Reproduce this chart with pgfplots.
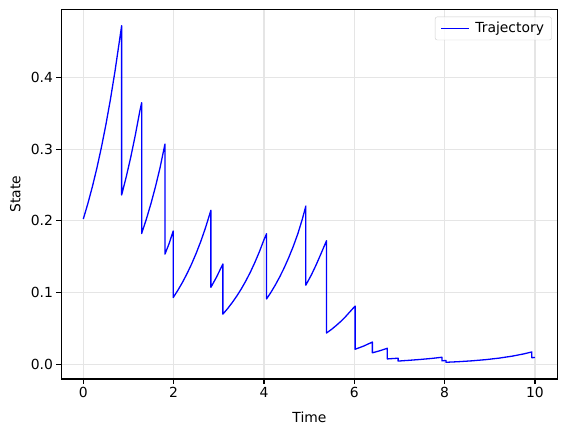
\documentclass[border=0pt]{standalone}
\usepackage{fontspec}
\setmainfont{DejaVu Sans}
\usepackage{pgfplots}
\pgfplotsset{compat=1.18}
\newcommand\mpl{\fontsize{13.9}{16.7}\selectfont}
\begin{document}
\begin{tikzpicture}
\begin{axis}[
  scale only axis, width=496.4pt, height=369.7pt,
  at={(0pt,0pt)}, anchor=south west,
  xmin=-0.487, xmax=10.503, ymin=-0.0205, ymax=0.4948,
  xtick={0,2,4,6,8,10}, ytick={0,0.1,0.2,0.3,0.4},
  tick pos=left,
  /pgf/number format/assume math mode=true,
  yticklabel style={/pgf/number format/.cd, fixed, fixed zerofill, precision=1},
  tick label style={font=\mpl},
  tick align=outside, major tick length=4.9pt,
  every tick/.style={black, line width=1.1pt},
  axis line style={line width=1.1pt},
  grid=major, major grid style={line width=1.1pt, color=black!10},
  xlabel={Time}, ylabel={State},
  xlabel style={font=\mpl, inner sep=0pt, at={(axis description cs:0.5,-0.0882)}, anchor=north},
  ylabel style={font=\mpl, inner sep=0pt, at={(axis description cs:-0.0822,0.5)}, anchor=base, rotate=0},
  legend style={at={(axis description cs:1,1)}, anchor=north east, xshift=-6pt, yshift=-7.4pt,
    draw=black!20, rounded corners=2pt, fill=white, fill opacity=0.8, text opacity=1,
    font=\mpl, inner xsep=5.5pt, inner ysep=3.5pt},
  legend image code/.code={\draw[#1, line width=1.1pt] (0pt,0pt) -- (27.8pt,0pt); \path (31.5pt,0pt);},
]
\addplot[blue, line width=1.3pt, line join=round] coordinates {
(0,0.2025) (0.1,0.2238) (0.2,0.2473) (0.3,0.2733) (0.4,0.3021) (0.5,0.3339) (0.6,0.3690) (0.7,0.4078) (0.8,0.4507) (0.849,0.472)
(0.849,0.236) (0.95,0.2611) (1.05,0.2885) (1.15,0.3189) (1.25,0.3524) (1.292,0.3646)
(1.292,0.1823) (1.4,0.2031) (1.5,0.2245) (1.6,0.2481) (1.7,0.2742) (1.808,0.307)
(1.808,0.1535) (1.9,0.1683) (1.99,0.1858)
(1.99,0.093) (2.1,0.1038) (2.2,0.1147) (2.3,0.1268) (2.4,0.1401) (2.5,0.1549) (2.6,0.1711) (2.7,0.1892) (2.825,0.2146)
(2.825,0.1073) (2.95,0.1216) (3.09,0.1398)
(3.09,0.0699) (3.2,0.0780) (3.3,0.0863) (3.4,0.0953) (3.5,0.1053) (3.6,0.1164) (3.7,0.1286) (3.8,0.1422) (3.9,0.1571) (4.0,0.1736) (4.057,0.182)
(4.057,0.091) (4.15,0.0999) (4.25,0.1104) (4.35,0.1220) (4.45,0.1348) (4.55,0.1490) (4.65,0.1646) (4.75,0.1820) (4.85,0.2025) (4.927,0.2206)
(4.927,0.1103) (5.05,0.1247) (5.15,0.1379) (5.25,0.1523) (5.385,0.1723)
(5.385,0.0862) (5.385,0.0436) (5.5,0.0489) (5.6,0.0541) (5.7,0.0597) (5.8,0.0660) (5.9,0.0730) (6.018,0.0812)
(6.018,0.0406) (6.018,0.021) (6.2,0.0252) (6.40,0.031)
(6.40,0.016) (6.56,0.0188) (6.73,0.0223)
(6.73,0.0112) (6.73,0.0075) (6.97,0.0085)
(6.97,0.0045) (7.2,0.0055) (7.45,0.0067) (7.7,0.0081) (7.94,0.0098)
(7.94,0.0049) (8.03,0.0053) (8.03,0.0028) (8.3,0.00362) (8.6,0.00483) (8.9,0.00643) (9.2,0.00856) (9.5,0.0114) (9.75,0.01448) (9.93,0.0172)
(9.93,0.0092) (10.0,0.0095)
};
\addlegendentry{Trajectory}
\end{axis}
\pgfresetboundingbox
\path (-61.3pt,-53pt) rectangle (505.7pt,379pt);
\end{tikzpicture}
\end{document}
